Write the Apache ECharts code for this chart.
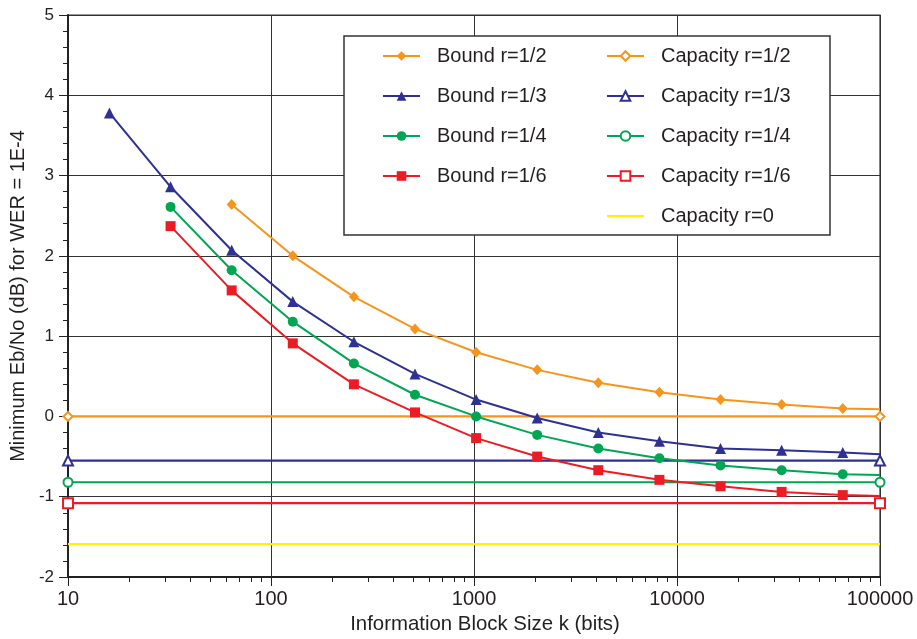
<!DOCTYPE html>
<html>
<head>
<meta charset="utf-8">
<script src="https://cdn.jsdelivr.net/npm/echarts@6/dist/echarts.min.js"></script>
<style>
html,body{margin:0;padding:0;background:#fff;}
#chart{width:917px;height:639px;}
</style>
</head>
<body>
<div id="chart"></div>
<script>
// Information block sizes k (bits)
const blockSizes = [16, 32, 64, 128, 256, 512, 1024, 2048, 4096, 8192, 16384, 32768, 65536];
// Bound curves (dB), null = not plotted
const boundR12 = [null, null, 2.64, 2.00, 1.49, 1.09, 0.80, 0.58, 0.42, 0.30, 0.21, 0.15, 0.10];
const boundR13 = [3.78, 2.86, 2.07, 1.43, 0.93, 0.53, 0.21, -0.02, -0.20, -0.31, -0.40, -0.42, -0.45];
const boundR14 = [null, 2.61, 1.82, 1.18, 0.66, 0.27, 0.00, -0.23, -0.40, -0.52, -0.61, -0.67, -0.72];
const boundR16 = [null, 2.37, 1.57, 0.91, 0.40, 0.05, -0.27, -0.50, -0.67, -0.79, -0.87, -0.94, -0.98];
// value where each bound curve meets the right edge (k = 100000)
const boundEndK = 100000;
const boundEnds = [0.09, -0.47, -0.73, -0.99];
// Capacity limits (dB)
const capR12 = 0.00;
const capR13 = -0.55;
const capR14 = -0.82;
const capR16 = -1.08;
const capR0 = -1.59;
const capRange = [10, 100000];
// Axis ticks
const xTickLabels = [10, 100, 1000, 10000, 100000];
const yTicks = [-2, -1, 0, 1, 2, 3, 4, 5];

const FONT = "'Liberation Sans', Arial, Helvetica, sans-serif";
const TXT = '#231f20';
const C = {orange: '#f7941d', blue: '#2e3192', green: '#00a651', red: '#ed1c24', yellow: '#fff200'};

function boundData(vals, endVal) {
  const d = [];
  vals.forEach((v, i) => { if (v !== null) d.push([blockSizes[i], v]); });
  d.push({value: [boundEndK, endVal], symbol: 'none'});
  return d;
}
function capData(v) { return [[capRange[0], v], [capRange[1], v]]; }

function boundSeries(name, color, symbol, size, vals, endVal) {
  return {
    name, type: 'line', data: boundData(vals, endVal), symbol, symbolSize: size,
    lineStyle: {color, width: 2}, itemStyle: {color}, z: 4,
    emphasis: {disabled: true}
  };
}
function capSeries(name, color, symbol, size, v) {
  return {
    name, type: 'line', data: capData(v), symbol, symbolSize: size,
    lineStyle: {color, width: 2.2}, itemStyle: {color, borderWidth: 1.2}, z: 3,
    emphasis: {disabled: true}
  };
}

const chart = echarts.init(document.getElementById('chart'), null, {renderer: 'canvas'});
const legendCommon = {
  orient: 'vertical', top: 46, padding: 0, itemGap: 20, itemWidth: 37, itemHeight: 12,
  textStyle: {fontFamily: FONT, fontSize: 20, color: TXT, lineHeight: 20, padding: [0, 0, 0, 12]},
  selectedMode: false, z: 60
};
chart.setOption({
  animation: false,
  backgroundColor: '#fff',
  textStyle: {fontFamily: FONT},
  grid: {left: 68, right: 37, top: 15, bottom: 62, show: true, borderColor: '#333', borderWidth: 1.2, containLabel: false},
  graphic: [{
    type: 'rect', z: 50,
    shape: {x: 344, y: 36, width: 486, height: 199},
    style: {fill: '#fff', stroke: '#333', lineWidth: 1.5}
  }],
  legend: [
    Object.assign({left: 382, data: ['Bound r=1/2', 'Bound r=1/3', 'Bound r=1/4', 'Bound r=1/6']}, legendCommon),
    Object.assign({left: 606, data: ['Capacity r=1/2', 'Capacity r=1/3', 'Capacity r=1/4', 'Capacity r=1/6',
      {name: 'Capacity r=0', itemStyle: {opacity: 0}}]}, legendCommon)
  ],
  xAxis: {
    type: 'log', logBase: 10, min: xTickLabels[0], max: xTickLabels[xTickLabels.length - 1],
    name: 'Information Block Size k (bits)', nameLocation: 'middle', nameGap: 34,
    nameTextStyle: {fontFamily: FONT, fontSize: 20.4, color: TXT, padding: [0, 0, 0, 22]},
    axisLine: {show: true, onZero: false, lineStyle: {color: '#222', width: 2}},
    axisTick: {show: true, length: 9, lineStyle: {color: '#222', width: 1}},
    minorTick: {show: true, splitNumber: 9, length: 5, lineStyle: {color: '#222', width: 1}},
    axisLabel: {fontFamily: FONT, fontSize: 20, color: TXT, margin: 12, formatter: v => String(v)},
    splitLine: {show: true, lineStyle: {color: '#333', width: 1}}
  },
  yAxis: {
    type: 'value', min: yTicks[0], max: yTicks[yTicks.length - 1], interval: 1,
    name: 'Minimum Eb/No (dB) for WER = 1E-4', nameLocation: 'middle', nameGap: 33,
    nameTextStyle: {fontFamily: FONT, fontSize: 20, color: TXT, padding: [0, 0, 0, 0]},
    axisLine: {show: true, onZero: false, lineStyle: {color: '#222', width: 2}},
    axisTick: {show: true, length: 9, lineStyle: {color: '#222', width: 1}},
    minorTick: {show: true, splitNumber: 5, length: 5, lineStyle: {color: '#222', width: 1}},
    axisLabel: {fontFamily: FONT, fontSize: 17, color: TXT, margin: 14},
    splitLine: {show: true, lineStyle: {color: '#333', width: 1}}
  },
  series: [
    capSeries('Capacity r=1/2', C.orange, 'emptyDiamond', 9, capR12),
    capSeries('Capacity r=1/3', C.blue, 'emptyTriangle', 10, capR13),
    capSeries('Capacity r=1/4', C.green, 'emptyCircle', 9, capR14),
    capSeries('Capacity r=1/6', C.red, 'emptyRect', 10, capR16),
    Object.assign(capSeries('Capacity r=0', C.yellow, 'none', 0, capR0), {symbol: 'none'}),
    boundSeries('Bound r=1/2', C.orange, 'diamond', [10, 11], boundR12, boundEnds[0]),
    boundSeries('Bound r=1/3', C.blue, 'triangle', 11, boundR13, boundEnds[1]),
    boundSeries('Bound r=1/4', C.green, 'circle', 10, boundR14, boundEnds[2]),
    boundSeries('Bound r=1/6', C.red, 'rect', 10, boundR16, boundEnds[3])
  ]
});
</script>
</body>
</html>
